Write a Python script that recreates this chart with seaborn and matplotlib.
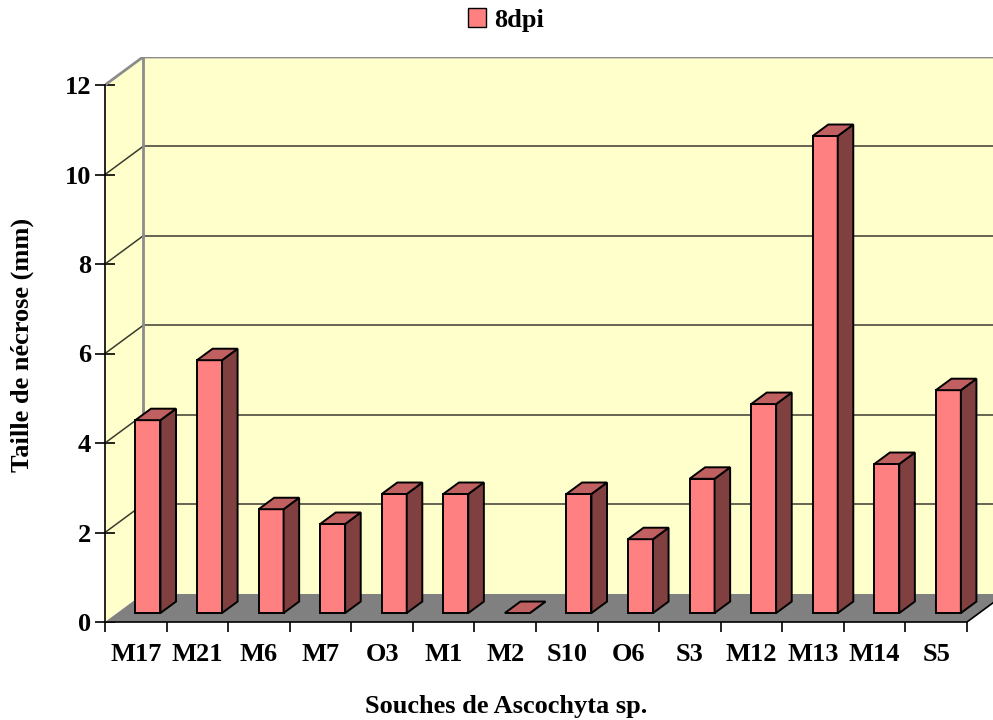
import matplotlib.pyplot as plt
import seaborn as sns
from matplotlib.patches import Patch
from matplotlib.transforms import Affine2D

souches = ["M17", "M21", "M6", "M7", "O3", "M1", "M2", "S10", "O6", "S3",
           "M12", "M13", "M14", "S5"]
taille = [4.31, 5.65, 2.32, 1.99, 2.66, 2.66, 0.0, 2.66, 1.65, 3.0,
          4.67, 10.66, 3.33, 4.98]
y_ticks = [0, 2, 4, 6, 8, 10, 12]

sns.set_theme(style="white")
plt.rcParams['font.family'] = ['Liberation Serif', 'DejaVu Serif']
plt.rcParams['font.weight'] = 'bold'
plt.rcParams['text.color'] = 'black'

fig = plt.figure(figsize=(9.93, 7.2), dpi=100)
ax = fig.add_axes([105 / 993, 98 / 720, 888 / 993, 565 / 720])

# 3D look: depth of the walls and of the bars, in data units
dx, dy = 0.617, 0.626
ox, oy = 0.32 * dx, 0.32 * dy      # where the bar front sits
bx, by = 0.41 * dx, 0.41 * dy      # bar depth
n = len(souches)
x0, x1 = -0.5, n - 0.5
xmax = -0.5 + 888 / 61.57
ytop = y_ticks[-1]

sns.barplot(x=souches, y=taille, color="#FF8080", width=0.406,
            edgecolor="black", linewidth=1.4, saturation=1, ax=ax, zorder=5)
bars = list(ax.patches)

# walls and floor
wall = "#FFFFCC"
ax.fill([x0 + dx, xmax, xmax, x0 + dx], [dy, dy, ytop + dy, ytop + dy],
        color=wall, zorder=0, lw=0)
ax.fill([x0, x0 + dx, x0 + dx, x0], [0, dy, ytop + dy, ytop],
        color=wall, zorder=0, lw=0)
ax.fill([x0, x1, x1 + dx, x0 + dx], [0, 0, dy, dy],
        facecolor="#808080", edgecolor="none", zorder=1)
ax.plot([x1, x1 + dx], [0, dy], color="black", lw=1.2, zorder=2)

for v in y_ticks[1:-1]:
    ax.plot([x0 + dx, xmax], [v + dy, v + dy], color="#3a3a30", lw=1.1, zorder=1)
    ax.plot([x0, x0 + dx], [v, v + dy], color="#3a3a30", lw=1.1, zorder=1)

edge = "#8c8c8c"
ax.plot([x0, x0 + dx, xmax], [ytop, ytop + dy, ytop + dy], color=edge, lw=2, zorder=2)
ax.plot([x0 + dx, x0 + dx], [dy, ytop + dy], color=edge, lw=2, zorder=2)

# bars: shift front face back, add side and top faces
for p in bars:
    bx0, w, h = p.get_x(), p.get_width(), p.get_height()
    p.set_transform(Affine2D().translate(ox, oy) + ax.transData)
    xl, xr, yb = bx0 + ox, bx0 + w + ox, oy
    ax.fill([xr, xr + bx, xr + bx, xr], [yb, yb + by, yb + h + by, yb + h],
            facecolor="#804040", edgecolor="black", lw=1.4, zorder=5)
    ax.fill([xl, xr, xr + bx, xl + bx], [yb + h, yb + h, yb + h + by, yb + h + by],
            facecolor="#C06060", edgecolor="black", lw=1.4, zorder=5)

ax.set_xlim(x0, xmax)
ax.set_ylim(0, 565 / 44.75)

for s in ["top", "right"]:
    ax.spines[s].set_visible(False)
ax.spines["left"].set_bounds(0, ytop)
ax.spines["bottom"].set_bounds(x0, x1)
for s in ["left", "bottom"]:
    ax.spines[s].set_color("black")
    ax.spines[s].set_linewidth(1.2)
    ax.spines[s].set_zorder(6)

ax.set_yticks(y_ticks)
ax.set_yticklabels([str(v) for v in y_ticks])
ax.tick_params(axis="y", direction="inout", length=14, width=1.2, pad=3,
               labelsize=19, colors="black", left=True)
ax.set_xticks(range(n))
ax.set_xticklabels(souches)
ax.set_xticks([i - 0.5 for i in range(n + 1)], minor=True)
ax.tick_params(axis="x", which="major", length=0, pad=15, labelsize=19, colors="black")
ax.tick_params(axis="x", which="minor", direction="out", length=7, width=1.2,
               color="black", bottom=True)
ax.set_xlabel("")
ax.set_ylabel("")

fig.text(506 / 993, 1 - 706 / 720, "Souches de Ascochyta sp.", ha="center",
         va="center", fontsize=19, fontweight="bold", color="black")
fig.text(22 / 993, 1 - 345 / 720, "Taille de nécrose (mm)", ha="center",
         va="center", rotation=90, fontsize=19, fontweight="bold", color="black")

fig.legend(handles=[Patch(facecolor="#FF8080", edgecolor="black", label="8dpi")],
           loc="center", bbox_to_anchor=(506 / 993, 1 - 20 / 720), frameon=False,
           fontsize=19, handlelength=0.7, handleheight=0.7, handletextpad=0.3)

fig.savefig("out.png", dpi=100)
